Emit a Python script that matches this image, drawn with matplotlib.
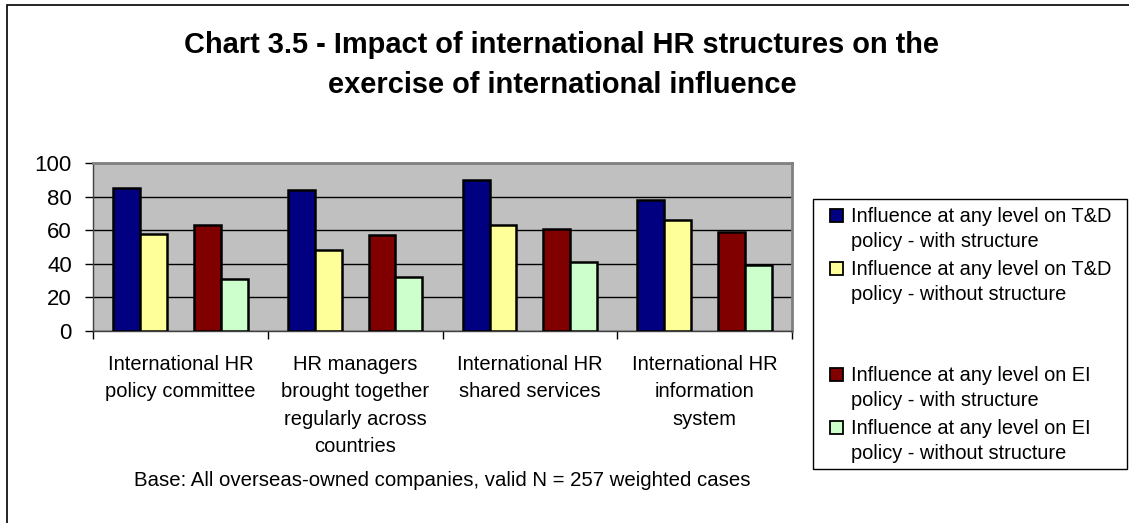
import matplotlib.pyplot as plt
from matplotlib.patches import Rectangle
import numpy as np

plt.rcParams["font.family"] = ["Liberation Sans", "DejaVu Sans"]

W, H = 1129, 523

categories = [
    "International HR\npolicy committee",
    "HR managers\nbrought together\nregularly across\ncountries",
    "International HR\nshared services",
    "International HR\ninformation\nsystem",
]
series_names = [
    "Influence at any level on T&D\npolicy - with structure",
    "Influence at any level on T&D\npolicy - without structure",
    "",
    "Influence at any level on EI\npolicy - with structure",
    "Influence at any level on EI\npolicy - without structure",
]
td_with = [85, 84, 90, 78]
td_without = [58, 48, 63, 66]
blank = [0, 0, 0, 0]
ei_with = [63, 57, 61, 59]
ei_without = [31, 32, 41, 39]
values = [td_with, td_without, blank, ei_with, ei_without]
colors = ["#000080", "#FFFF99", "none", "#800000", "#CCFFCC"]
yticks = [0, 20, 40, 60, 80, 100]


def fx(px):
    return px / W


def fy(py):
    return 1 - py / H


fig = plt.figure(figsize=(W / 100, H / 100), dpi=100)

# outer chart border (runs off the right / bottom of the picture)
fig.patches.append(Rectangle((fx(7), fy(530)), 2, fy(5) - fy(530),
                             transform=fig.transFigure, fill=False,
                             edgecolor="black", linewidth=1.2))

# title
fig.text(fx(562), fy(53), "Chart 3.5 - Impact of international HR structures on the",
         ha="center", va="baseline", fontsize=20.9, fontweight="bold")
fig.text(fx(562), fy(93), "exercise of international influence",
         ha="center", va="baseline", fontsize=20.9, fontweight="bold")

ax = fig.add_axes([fx(93), fy(331), fx(792) - fx(93), fy(163) - fy(331)])
ax.set_facecolor("#C0C0C0")

x = np.arange(len(categories))
n = len(values)
width = 1 / (n + 1.5)
for k, vals in enumerate(values):
    if colors[k] == "none":
        continue
    ax.bar(x + (k - (n - 1) / 2) * width, vals, width, color=colors[k],
           edgecolor="black", linewidth=1.8, zorder=3)

ax.set_xlim(-0.5, len(categories) - 0.5)
ax.set_ylim(0, 100)
ax.set_yticks(yticks)
ax.yaxis.grid(True, color="black", linewidth=1)
ax.set_axisbelow(True)
ax.tick_params(axis="y", direction="out", length=5.8, width=1, pad=9.4,
               labelsize=16)

ax.set_xticks(x)
ax.set_xticklabels(categories, fontsize=14.5, linespacing=1.55)
ax.tick_params(axis="x", length=0, pad=17.3)
ax.set_xticks(np.arange(len(categories) + 1) - 0.5, minor=True)
ax.tick_params(axis="x", which="minor", direction="out", length=5.8, width=1)

for side in ["top", "right"]:
    ax.spines[side].set_color("#808080")
    ax.spines[side].set_linewidth(2)
for side in ["left", "bottom"]:
    ax.spines[side].set_color("#404040")
    ax.spines[side].set_linewidth(1)

# base note
fig.text(fx(442), fy(486),
         "Base: All overseas-owned companies, valid N = 257 weighted cases",
         ha="center", va="baseline", fontsize=14.7)

# legend box
fig.patches.append(Rectangle((fx(813), fy(469)), fx(1127) - fx(813), fy(199) - fy(469),
                             transform=fig.transFigure, fill=False,
                             edgecolor="black", linewidth=1))
for k, name in enumerate(series_names):
    if not name:
        continue
    base = 222 + 53 * k
    fig.patches.append(Rectangle((fx(830), fy(base)), fx(843) - fx(830), fy(209) - fy(222),
                                 transform=fig.transFigure, facecolor=colors[k],
                                 edgecolor="black", linewidth=1.3))
    for j, line in enumerate(name.split("\n")):
        fig.text(fx(851), fy(base + 25 * j), line, ha="left", va="baseline",
                 fontsize=14.4)

fig.savefig("out.png", dpi=100)
